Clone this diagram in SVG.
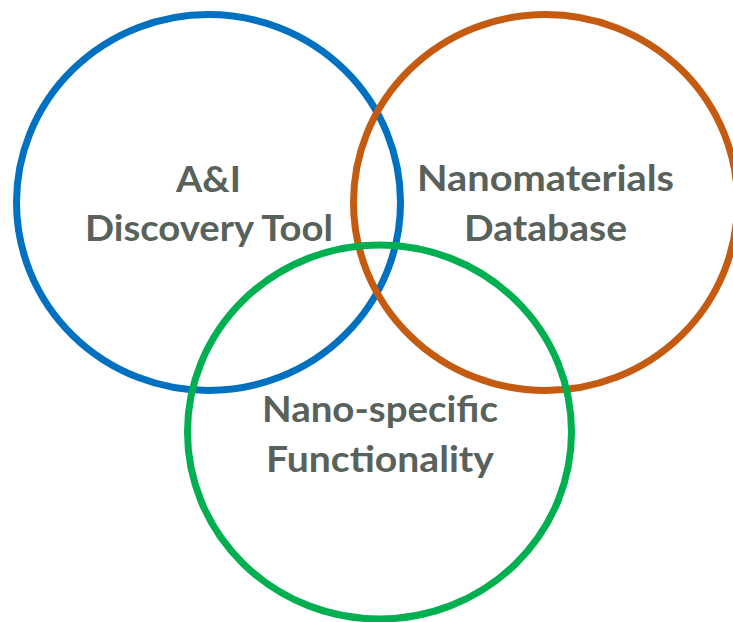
<svg xmlns="http://www.w3.org/2000/svg" width="733" height="622" viewBox="0 0 733 622">
<style>
.ring{fill:none;stroke-width:7}
.lbl{font-family:Lato,"Open Sans","Liberation Sans",sans-serif;font-weight:bold;font-size:37px;fill:#58625b;text-anchor:middle}
</style>
<rect width="733" height="622" fill="#ffffff"/>
<g id="discovery-tool">
<ellipse class="ring" cx="208.5" cy="202.5" rx="192" ry="188" stroke="#0070c0"/>
<text class="lbl" x="208.5" y="191.5" textLength="65" lengthAdjust="spacingAndGlyphs">A&amp;I</text>
<text class="lbl" x="209" y="240.5" textLength="248" lengthAdjust="spacingAndGlyphs">Discovery Tool</text>
</g>
<g id="nanomaterials-database">
<ellipse class="ring" cx="545.5" cy="202.5" rx="192" ry="188" stroke="#c55a11"/>
<text class="lbl" x="545.5" y="191" textLength="257" lengthAdjust="spacingAndGlyphs">Nanomaterials</text>
<text class="lbl" x="545.5" y="240.5" textLength="163" lengthAdjust="spacingAndGlyphs">Database</text>
</g>
<g id="nano-specific-functionality">
<ellipse class="ring" cx="379.5" cy="432" rx="192" ry="187" stroke="#00b050"/>
<text class="lbl" x="380" y="421.5" textLength="236" lengthAdjust="spacingAndGlyphs">Nano-specific</text>
<text class="lbl" x="380" y="471.5" textLength="228" lengthAdjust="spacingAndGlyphs">Functionality</text>
</g>
</svg>
